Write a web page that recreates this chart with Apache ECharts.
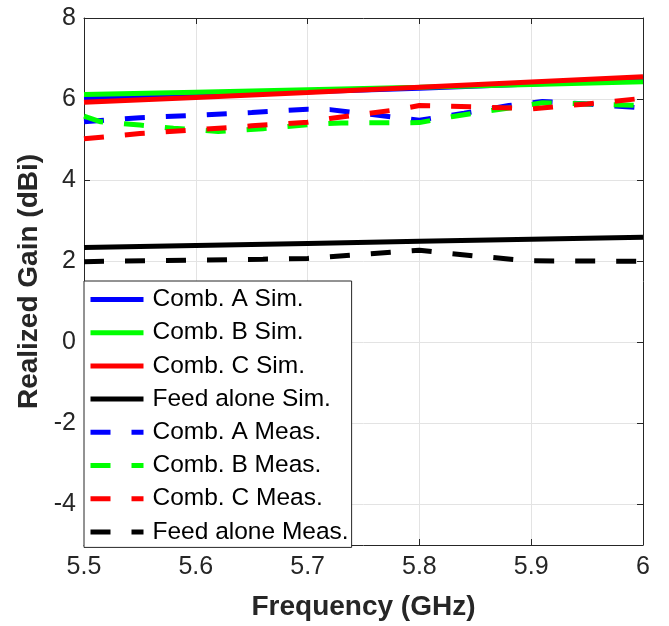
<!DOCTYPE html>
<html>
<head>
<meta charset="utf-8">
<script src="https://cdn.jsdelivr.net/npm/echarts@6/dist/echarts.min.js"></script>
<style>
html,body{margin:0;padding:0;background:#fff;}
#chart{width:669px;height:626px;}
</style>
</head>
<body>
<div id="chart"></div>
<script>
// ---- data ----
var xTicks = [5.5, 5.6, 5.7, 5.8, 5.9, 6.0];
var yTicks = [-4, -2, 0, 2, 4, 6, 8];

var freqSim = [5.5, 5.6, 5.7, 5.8, 5.9, 6.0];
var simA = [6.02, 6.09, 6.18, 6.27, 6.37, 6.47];
var simB = [6.11, 6.17, 6.23, 6.29, 6.36, 6.43];
var simC = [5.92, 6.04, 6.16, 6.29, 6.42, 6.55];
var simFeed = [2.34, 2.39, 2.44, 2.49, 2.54, 2.59];

var freqMeasA = [5.5, 5.55, 5.6, 5.65, 5.7, 5.72, 5.8, 5.84, 5.88, 5.91, 5.95, 6.0];
var measA = [5.44, 5.54, 5.6, 5.67, 5.75, 5.74, 5.48, 5.65, 5.84, 5.94, 5.88, 5.78];

var freqMeasB = [5.5, 5.515, 5.55, 5.58, 5.62, 5.66, 5.7, 5.73, 5.8, 5.83, 5.86, 5.89, 5.91, 5.95, 6.0];
var measB = [5.58, 5.44, 5.36, 5.28, 5.2, 5.27, 5.37, 5.41, 5.42, 5.57, 5.7, 5.82, 5.91, 5.88, 5.84];

var freqMeasC = [5.5, 5.55, 5.6, 5.65, 5.7, 5.72, 5.78, 5.8, 5.85, 5.9, 5.95, 6.0];
var measC = [5.02, 5.15, 5.24, 5.34, 5.43, 5.52, 5.74, 5.84, 5.81, 5.76, 5.88, 6.02];

var freqMeasFeed = [5.5, 5.6, 5.66, 5.7, 5.75, 5.8, 5.85, 5.89, 5.9, 6.0];
var measFeed = [1.99, 2.03, 2.05, 2.07, 2.17, 2.27, 2.13, 2.03, 2.01, 2.0];

var names = ['Comb. A Sim.', 'Comb. B Sim.', 'Comb. C Sim.', 'Feed alone Sim.',
             'Comb. A Meas.', 'Comb. B Meas.', 'Comb. C Meas.', 'Feed alone Meas.'];
var colors = ['#0000ff', '#00ff00', '#ff0000', '#000000',
              '#0000ff', '#00ff00', '#ff0000', '#000000'];

function pairs(xs, ys) { return xs.map(function (x, i) { return [x, ys[i]]; }); }

var seriesData = [
  pairs(freqSim, simA), pairs(freqSim, simB), pairs(freqSim, simC), pairs(freqSim, simFeed),
  pairs(freqMeasA, measA), pairs(freqMeasB, measB), pairs(freqMeasC, measC), pairs(freqMeasFeed, measFeed)
];

var FONT = 'Liberation Sans, Arial, sans-serif';
var AX = '#262626';

var series = seriesData.map(function (d, i) {
  return {
    name: names[i],
    type: 'line',
    data: d,
    symbol: 'none',
    showSymbol: false,
    animation: false,
    clip: true,
    lineStyle: {
      color: colors[i],
      width: 5,
      type: i < 4 ? 'solid' : [20, 21],
      cap: 'butt'
    },
    itemStyle: { color: colors[i] },
    z: 2 + i
  };
});

function xAx(pos, showLabel) {
  return {
    type: 'value', position: pos, min: 5.5, max: 6, interval: 0.1,
    axisLine: { show: true, onZero: false, lineStyle: { color: AX, width: 1 } },
    axisTick: { show: true, inside: true, length: 6, lineStyle: { color: AX } },
    axisLabel: {
      show: showLabel, margin: 10, fontSize: 25, color: AX, fontFamily: FONT,
      formatter: function (v) { return String(Math.round(v * 10) / 10); }
    },
    splitLine: { show: showLabel, lineStyle: { color: '#e3e3e3', width: 1 } },
    name: showLabel ? 'Frequency (GHz)' : '',
    nameLocation: 'middle', nameGap: 48,
    nameTextStyle: { fontSize: 28, fontWeight: 'bold', color: AX, fontFamily: FONT }
  };
}
function yAx(pos, showLabel) {
  return {
    type: 'value', position: pos, min: -5, max: 8,
    axisLine: { show: true, onZero: false, lineStyle: { color: AX, width: 1 } },
    axisTick: { show: true, inside: true, length: 6, customValues: yTicks, lineStyle: { color: AX } },
    axisLabel: {
      show: showLabel, customValues: yTicks, margin: 8, fontSize: 25, color: AX, fontFamily: FONT
    },
    splitLine: { show: showLabel, lineStyle: { color: '#e3e3e3', width: 1 } },
    name: showLabel ? 'Realized Gain (dBi)' : '',
    nameLocation: 'middle', nameGap: 40,
    nameTextStyle: { fontSize: 28, fontWeight: 'bold', color: AX, fontFamily: FONT }
  };
}

var chart = echarts.init(document.getElementById('chart'), null, { renderer: 'canvas' });
chart.setOption({
  backgroundColor: '#ffffff',
  animation: false,
  grid: { left: 84, right: 26, top: 18, bottom: 81, containLabel: false },
  xAxis: [xAx('bottom', true), xAx('top', false)],
  yAxis: [yAx('left', true), yAx('right', false)],
  legend: {
    orient: 'vertical',
    left: 84, top: 281,
    data: names,
    itemWidth: 53, itemHeight: 14, itemGap: 8.2,
    padding: [6, 3, 3, 4],
    backgroundColor: '#ffffff',
    borderColor: AX, borderWidth: 1,
    itemStyle: { opacity: 0 },
    lineStyle: { width: 5 },
    textStyle: { fontSize: 24.5, lineHeight: 25, color: '#000', fontFamily: FONT, padding: [0, 0, 0, 4] },
    selectedMode: false
  },
  series: series
});
</script>
</body>
</html>
